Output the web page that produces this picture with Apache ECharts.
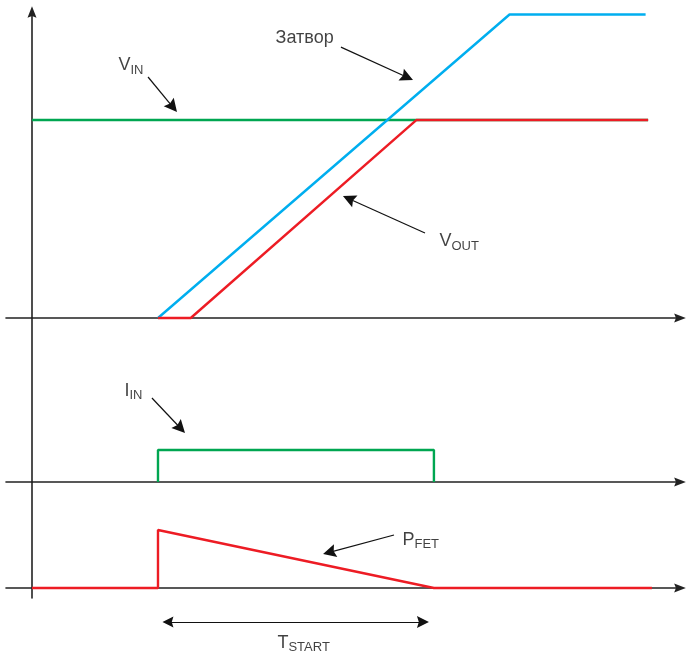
<!DOCTYPE html>
<html><head><meta charset="utf-8">
<script src="https://cdn.jsdelivr.net/npm/echarts@6/dist/echarts.min.js"></script>
<style>html,body{margin:0;padding:0;background:#fff}#c{width:687px;height:659px}</style>
</head><body><div id="c"></div>
<script>
// ---- data (time in arbitrary units, values per panel) ----
const timeRange = [-2.063, 51.43];
const panelValueRanges = [[0, 18.55], [0, 5.125], [-0.172, 1.828]];

const vinTime = [0, 48.9];
const vinValue = [12, 12];
const gateTime = [10, 37.9, 48.7];
const gateValue = [0, 18.4, 18.4];
const voutTime = [10, 12.6, 30.5, 48.9];
const voutValue = [0, 0, 12, 12];
const iinTime = [10, 10, 31.9, 31.9];
const iinValue = [0, 1, 1, 0];
const pfetTime = [0, 10, 10, 31.9, 49.2];
const pfetValue = [0, 0, 1, 0, 0];

// annotation texts: panel, time, value, main text, subscript
const labelPanel = [0, 0, 0, 1, 2, 2];
const labelTime = [6.9, 19.37, 32.38, 7.38, 29.44, 19.52];
const labelValue = [15.70, 17.39, 5.03, 3.06, 0.948, -0.828];
const labelMain = ['V', 'Затвор', 'V', 'I', 'P', 'T'];
const labelSub = ['IN', '', 'OUT', 'IN', 'FET', 'START'];

// pointer arrows: panel, from (time,value), to (time,value)
const arrowPanel = [0, 0, 0, 1, 2];
const arrowFrom = [[9.21, 14.61], [24.52, 16.42], [31.19, 5.15], [9.52, 2.625], [28.73, 0.914]];
const arrowTo = [[11.18, 12.79], [29.77, 14.59], [25.15, 7.23], [11.79, 1.68], [23.60, 0.616]];
// T_START span
const spanFrom = [10.79, -0.586];
const spanTo = [31.03, -0.586];

// ---- chart ----
const FONT = '"Liberation Sans", Arial, Helvetica, sans-serif';
const INK = '#111111';
const AXIS = '#222222';
const GREEN = '#00a651', BLUE = '#00aeef', RED = '#ed1c24';
const HEAD = 'path://M0,0 L5,13 L0,11 L-5,13 Z';

const grids = [
  {left: 6, right: 7, top: 12, bottom: 341},
  {left: 6, right: 7, top: 318, bottom: 177},
  {left: 6, right: 7, top: 482, bottom: 61}
];
const xAxes = grids.map((g, i) => ({
  type: 'value', gridIndex: i, min: timeRange[0], max: timeRange[1],
  axisLine: {show: true, onZero: true, symbol: ['none', HEAD], symbolSize: [9, 15],
    lineStyle: {color: AXIS, width: 1.6}},
  axisTick: {show: false}, axisLabel: {show: false}, splitLine: {show: false}
}));
const yAxes = grids.map((g, i) => ({
  type: 'value', gridIndex: i, min: panelValueRanges[i][0], max: panelValueRanges[i][1],
  axisLine: {show: true, onZero: true, symbol: i === 0 ? ['none', HEAD] : ['none', 'none'],
    symbolSize: [9, 15], lineStyle: {color: AXIS, width: 1.6}},
  axisTick: {show: false}, axisLabel: {show: false}, splitLine: {show: false}
}));

const zip = (a, b) => a.map((v, i) => [v, b[i]]);
function trace(name, t, v, color, panel) {
  return {type: 'line', name, xAxisIndex: panel, yAxisIndex: panel, data: zip(t, v),
    showSymbol: false, symbol: 'none', clip: false, animation: false,
    lineStyle: {color, width: 2.4}, z: 3};
}

const series = [
  trace('VIN', vinTime, vinValue, GREEN, 0),
  trace('Gate', gateTime, gateValue, BLUE, 0),
  trace('VOUT', voutTime, voutValue, RED, 0),
  trace('IIN', iinTime, iinValue, GREEN, 1),
  trace('PFET', pfetTime, pfetValue, RED, 2)
];

const rich = {
  m: {fontSize: 18, lineHeight: 22, color: INK, fontFamily: FONT},
  s: {fontSize: 13, lineHeight: 13, verticalAlign: 'bottom', color: INK, fontFamily: FONT}
};
[0, 1, 2].forEach(p => {
  const items = [];
  labelPanel.forEach((lp, i) => {
    if (lp !== p) return;
    const txt = '{m|' + labelMain[i] + '}' + (labelSub[i] ? '{s|' + labelSub[i] + '}' : '');
    items.push({value: [labelTime[i], labelValue[i]], label: {formatter: txt}});
  });
  series.push({type: 'scatter', xAxisIndex: p, yAxisIndex: p, data: items, symbolSize: 1,
    itemStyle: {color: 'rgba(0,0,0,0)'}, clip: false, animation: false, silent: true,
    label: {show: true, position: [0, 0], align: 'left', verticalAlign: 'top', offset: [0, -4], rich}});
  const arr = [];
  arrowPanel.forEach((ap, i) => { if (ap === p) arr.push({coords: [arrowFrom[i], arrowTo[i]]}); });
  if (p === 2) arr.push({coords: [spanFrom, spanTo], symbol: [HEAD, HEAD], symbolSize: [11, 12]});
  series.push({type: 'lines', coordinateSystem: 'cartesian2d', xAxisIndex: p, yAxisIndex: p,
    data: arr, symbol: ['none', HEAD], symbolSize: [9, 13], clip: false, animation: false, silent: true,
    lineStyle: {color: INK, width: 1.2, opacity: 1, curveness: 0}, z: 4});
});

const chart = echarts.init(document.getElementById('c'), null, {renderer: 'canvas'});
chart.setOption({
  animation: false,
  backgroundColor: '#ffffff',
  textStyle: {fontFamily: FONT},
  grid: grids,
  xAxis: xAxes,
  yAxis: yAxes,
  series
});
</script>
</body></html>
